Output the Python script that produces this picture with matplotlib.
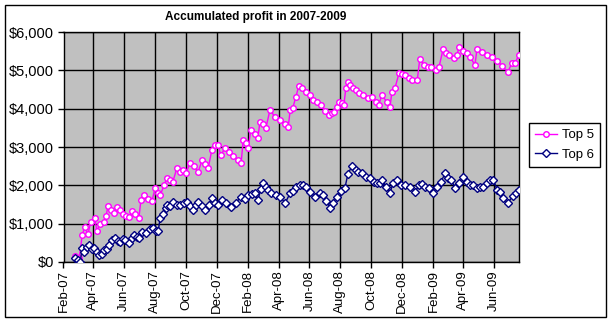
import matplotlib
matplotlib.use("Agg")
import matplotlib.pyplot as plt
import matplotlib.dates as mdates
from matplotlib.ticker import MultipleLocator, FuncFormatter
from matplotlib.patches import Rectangle
import pandas as pd

plt.rcParams['font.family'] = ['Liberation Sans', 'DejaVu Sans']

start = pd.Timestamp('2007-02-01')

# days after 1 Feb 2007, accumulated profit in $
top5_days = [23, 31, 37, 42, 48, 54, 62, 66, 72, 80, 84, 88, 94, 100, 106, 112, 118, 124,
             129, 135, 141, 149, 153, 159, 167, 175, 181, 187, 191, 199, 204, 210, 216,
             224, 230, 236, 242, 250, 258, 266, 274, 280, 286, 293, 299, 305, 311, 319,
             327, 335, 345, 351, 355, 361, 365, 370, 378, 384, 388, 394, 400, 408, 418,
             428, 438, 444, 448, 453, 459, 465, 471, 479, 487, 493, 501, 509, 517, 525,
             531, 534, 540, 544, 550, 554, 558, 562, 566, 572, 578, 584, 592, 602, 610,
             618, 623, 629, 639, 645, 649, 655, 663, 669, 675, 683, 689, 699, 704, 712,
             720, 726, 736, 742, 750, 756, 762, 772, 778, 781, 789, 797, 803, 813, 817,
             827, 837, 847, 857, 866, 878, 886, 892, 900]
top5_vals = [150, 100, 700, 920, 720, 1050, 1150, 800, 1000, 1050, 1200, 1460, 1350, 1280,
             1430, 1350, 1250, 1200, 1170, 1330, 1250, 1150, 1620, 1750, 1650, 1600, 1930,
             1800, 1750, 2000, 2190, 2150, 2090, 2450, 2350, 2400, 2320, 2580, 2500, 2350,
             2660, 2550, 2450, 2920, 3050, 3050, 2790, 2970, 2870, 2760, 2660, 2580, 3180,
             3100, 2970, 3440, 3350, 3230, 3650, 3600, 3500, 3970, 3780, 3700, 3600, 3520,
             3970, 4020, 4300, 4600, 4550, 4440, 4350, 4230, 4180, 4100, 3950, 3840, 3900,
             3910, 4050, 4170, 4150, 4100, 4550, 4700, 4620, 4540, 4480, 4410, 4350, 4280,
             4300, 4170, 4100, 4360, 4170, 4040, 4440, 4540, 4930, 4900, 4880, 4800, 4750,
             4750, 5300, 5140, 5100, 5090, 5010, 5090, 5550, 5450, 5400, 5320, 5400, 5610,
             5500, 5450, 5350, 5140, 5560, 5480, 5400, 5350, 5250, 5120, 4960, 5190, 5190,
             5400]

top6_days = [23, 29, 33, 37, 40, 46, 50, 56, 60, 66, 70, 76, 80, 86, 90, 96, 102, 108,
             112, 118, 122, 129, 135, 139, 145, 149, 155, 163, 171, 177, 183, 187, 191,
             197, 203, 204, 210, 216, 224, 230, 238, 244, 250, 256, 262, 266, 274, 280,
             287, 293, 299, 305, 313, 321, 331, 341, 351, 359, 365, 372, 378, 384, 390,
             394, 400, 404, 410, 420, 428, 438, 448, 453, 459, 467, 473, 479, 487, 497,
             507, 513, 519, 527, 533, 540, 548, 556, 562, 570, 578, 582, 590, 598, 606,
             614, 620, 625, 629, 637, 645, 651, 659, 667, 675, 685, 695, 702, 708, 714,
             722, 730, 738, 746, 754, 760, 766, 774, 781, 789, 797, 803, 809, 817, 823,
             829, 837, 843, 849, 857, 862, 868, 878, 888, 894, 900]
top6_vals = [100, 50, 0, 370, 260, 400, 440, 330, 370, 250, 180, 200, 310, 350, 440, 570,
             620, 560, 520, 600, 570, 500, 620, 700, 650, 620, 780, 760, 850, 900, 820, 800,
             1150, 1250, 1400, 1490, 1450, 1570, 1500, 1490, 1550, 1570, 1450, 1360, 1500,
             1570, 1450, 1360, 1500, 1670, 1550, 1490, 1620, 1550, 1430, 1550, 1700, 1650,
             1750, 1780, 1800, 1620, 1900, 2060, 1950, 1880, 1800, 1760, 1700, 1540, 1800,
             1850, 1960, 2000, 2000, 1950, 1830, 1700, 1800, 1750, 1600, 1410, 1550, 1700,
             1850, 1930, 2300, 2500, 2400, 2350, 2320, 2220, 2200, 2090, 2060, 2050, 2140,
             1950, 1800, 2050, 2150, 2010, 2010, 1950, 1830, 2000, 2030, 1960, 1930, 1800,
             1950, 2090, 2320, 2200, 2140, 1930, 2050, 2220, 2100, 2010, 2000, 1930, 1960,
             1960, 2050, 2140, 2150, 1880, 1830, 1670, 1540, 1720, 1800, 1880]

top5_dates = start + pd.to_timedelta(top5_days, unit='D')
top6_dates = start + pd.to_timedelta(top6_days, unit='D')

fig = plt.figure(figsize=(6.14, 3.23), dpi=100)
fig.patch.set_facecolor('white')
ax = fig.add_axes([63.5 / 614, 1 - 262 / 323, (519 - 63.5) / 614, 230 / 323])
ax.set_facecolor('#C0C0C0')

ax.plot(top5_dates, top5_vals, color='#FF00FF', lw=1, marker='o', ms=4,
        mfc='white', mec='#FF00FF', mew=1, label='Top 5', zorder=3)
ax.plot(top6_dates, top6_vals, color='#000080', lw=1, marker='D', ms=3.6,
        mfc='white', mec='#000080', mew=1, label='Top 6', zorder=3)

ax.set_xlim(start, top5_dates[-1])
ax.set_ylim(0, 6000)
ax.yaxis.set_major_locator(MultipleLocator(1000))
ax.yaxis.set_major_formatter(FuncFormatter(lambda v, p: '${:,.0f}'.format(v)))
ax.xaxis.set_major_locator(mdates.MonthLocator(bymonth=[2, 4, 6, 8, 10, 12]))
ax.xaxis.set_major_formatter(mdates.DateFormatter('%b-%y'))
for lab in ax.get_xticklabels():
    lab.set_rotation(90)
ax.tick_params(axis='x', labelsize=9.5, length=4, width=1, pad=2, color='black')
ax.tick_params(axis='y', labelsize=10.5, length=4, width=1, pad=3, color='black')
ax.grid(True, color='black', lw=1)
ax.set_axisbelow(True)
for s in ax.spines.values():
    s.set_color('black')
    s.set_linewidth(1)

fig.text(256 / 614, 1 - 17 / 323, 'Accumulated profit in 2007-2009',
         ha='center', va='center', fontsize=8.5, fontweight='bold')

fig.legend(loc='upper left', bbox_to_anchor=(529 / 614, 1 - 123 / 323),
           frameon=True, fancybox=False, edgecolor='black', fontsize=9.5,
           handlelength=1.7, handletextpad=0.35, borderpad=0.45, labelspacing=0.55,
           borderaxespad=0, framealpha=1)

# outer chart border
fig.patches.append(Rectangle((5 / 614, 1 - 317 / 323), 601 / 614, 312 / 323,
                             transform=fig.transFigure, fill=False,
                             edgecolor='black', lw=1))

fig.savefig('out.png', dpi=100)
